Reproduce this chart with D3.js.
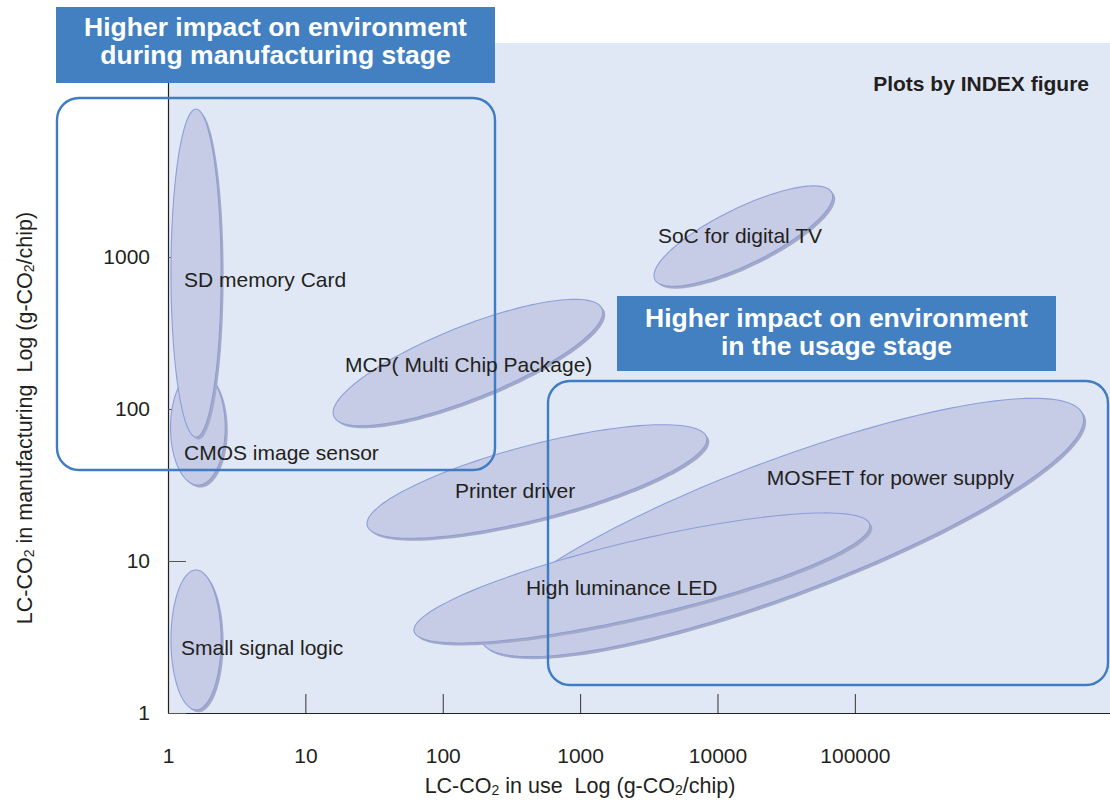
<!DOCTYPE html>
<html>
<head>
<meta charset="utf-8">
<script src="https://cdn.jsdelivr.net/npm/d3@7"></script>
<style>
  html, body { margin: 0; padding: 0; background: #ffffff; }
  svg { display: block; }
  text { font-family: "Liberation Sans", Arial, Helvetica, sans-serif; }
</style>
</head>
<body>
<svg id="chart" width="1110" height="803"></svg>
<script>
// ---------------- DATA ----------------
const categories = [
  "SD memory Card", "CMOS image sensor", "Small signal logic",
  "MCP( Multi Chip Package)", "Printer driver", "SoC for digital TV",
  "MOSFET for power supply", "High luminance LED"
];
// major-axis end points of each plotted region (g-CO2/chip)
const useLow   = [1.6, 1.65, 1.6, 16.1, 28.2, 3500, 190, 61.9];
const useHigh  = [1.6, 1.65, 1.6, 1445, 8330, 68000, 4560000, 128200];
const mfgLow   = [65.4, 31.6, 1.05, 89.7, 17.1, 712, 3.0, 3.44];
const mfgHigh  = [9400, 180, 8.73, 456, 65.1, 2653, 92.1, 17.4];
// half-width of each region (in decades)
const spreadDecades = [0.165, 0.18, 0.165, 0.237, 0.243, 0.184, 0.44, 0.25];
// label anchor points (g-CO2/chip)
const labelUse = [1.307, 1.307, 1.243, 19.4, 122.7, 3683, 22880, 403];
const labelMfg = [706, 51.3, 2.68, 194.8, 28.9, 1374, 35.2, 6.64];
// drawing order (later = on top)
const drawOrder = [1, 0, 2, 3, 4, 5, 6, 7];

const xTickValues = [1, 10, 100, 1000, 10000, 100000];
const xTickLabels = ["1", "10", "100", "1000", "10000", "100000"];
const yTickValues = [1, 10, 100, 1000];
const yTickLabels = ["1", "10", "100", "1000"];

const titleManufacturing = ["Higher impact on environment", "during manufacturing stage"];
const titleUsage = ["Higher impact on environment", "in the usage stage"];
const noteText = "Plots by INDEX figure";

// ---------------- LAYOUT ----------------
const svg = d3.select("#chart");
const FONT = '"Liberation Sans", Arial, Helvetica, sans-serif';
const plotLeft = 168, plotRight = 1110, plotTop = 43, plotBottom = 713;

const x = d3.scaleLog().domain([1, 7.2e6]).range([plotLeft, plotRight]);
const y = d3.scaleLog().domain([1, 25600]).range([plotBottom, plotTop]);

const colBg = "#e1e8f5";
const colBox = "#4280c2";
const colFrame = "#3f7cc1";
const colFill = "#c6cbe6";
const colStroke = "#8c9fd9";
const colShadow = "#a4a9c5";
const colText = "#231f20";

// plot background
svg.append("rect")
  .attr("x", plotLeft).attr("y", plotTop)
  .attr("width", plotRight - plotLeft).attr("height", plotBottom - plotTop)
  .attr("fill", colBg);

// axes
const xAxis = d3.axisBottom(x)
  .tickValues(xTickValues)
  .tickFormat((d, i) => xTickLabels[i])
  .tickSizeInner(-19).tickSizeOuter(0).tickPadding(35);
const gx = svg.append("g").attr("transform", `translate(0,${plotBottom})`).call(xAxis);
gx.select(".domain").attr("stroke", "#231f20").attr("stroke-width", 1.2);
gx.selectAll(".tick line").attr("stroke", "#333").attr("stroke-width", 1);
gx.selectAll(".tick text").attr("font-size", 21).attr("font-family", FONT).attr("fill", colText);

const yAxis = d3.axisLeft(y)
  .tickValues(yTickValues)
  .tickFormat((d, i) => yTickLabels[i])
  .tickSizeInner(-18).tickSizeOuter(0).tickPadding(18);
const gy = svg.append("g").attr("transform", `translate(${plotLeft},0)`).call(yAxis);
gy.select(".domain").attr("stroke", "#231f20").attr("stroke-width", 1.2);
gy.selectAll(".tick line").attr("stroke", "#555").attr("stroke-width", 1);
gy.selectAll(".tick text").attr("font-size", 21).attr("font-family", FONT).attr("fill", colText);

// ---------------- REGIONS ----------------
const decadePx = y(1) - y(10);
function regionPath(i) {
  const x1 = x(useLow[i]), y1 = y(mfgLow[i]);
  const x2 = x(useHigh[i]), y2 = y(mfgHigh[i]);
  const cx = (x1 + x2) / 2, cy = (y1 + y2) / 2;
  const a = Math.hypot(x2 - x1, y2 - y1) / 2;
  const b = spreadDecades[i] * decadePx;
  const ang = Math.atan2(y2 - y1, x2 - x1);
  const pts = [];
  const N = 160;
  for (let j = 0; j < N; j++) {
    const phi = (j / N) * 2 * Math.PI;
    const px = a * Math.cos(phi), py = b * Math.sin(phi);
    pts.push([cx + px * Math.cos(ang) - py * Math.sin(ang),
              cy + px * Math.sin(ang) + py * Math.cos(ang)]);
  }
  return d3.line().curve(d3.curveLinearClosed)(pts);
}

const gRegions = svg.append("g");
drawOrder.forEach(i => {
  const g = gRegions.append("g");
  const d = regionPath(i);
  g.append("path").attr("d", d).attr("fill", colShadow)
    .attr("transform", "translate(2.5,2.5)");
  g.append("path").attr("d", d).attr("fill", colFill)
    .attr("stroke", colStroke).attr("stroke-width", 1.1);
});

// ---------------- ANNOTATION FRAMES ----------------
svg.append("rect").attr("x", 57).attr("y", 98).attr("width", 438).attr("height", 372)
  .attr("rx", 22).attr("ry", 22)
  .attr("fill", "none").attr("stroke", colFrame).attr("stroke-width", 2.4);
svg.append("rect").attr("x", 548).attr("y", 381).attr("width", 560).attr("height", 304)
  .attr("rx", 22).attr("ry", 22)
  .attr("fill", "none").attr("stroke", colFrame).attr("stroke-width", 2.4);

// ---------------- LABELS ----------------
svg.append("g").selectAll("text").data(categories).join("text")
  .attr("x", (d, i) => x(labelUse[i]))
  .attr("y", (d, i) => y(labelMfg[i]))
  .attr("dy", "0.35em")
  .attr("font-size", 21)
  .attr("fill", colText)
  .text(d => d);

// title boxes
function titleBox(x0, y0, w, h, lines, baselines) {
  svg.append("rect").attr("x", x0).attr("y", y0).attr("width", w).attr("height", h)
    .attr("fill", colBox);
  lines.forEach((l, i) => {
    svg.append("text").attr("x", x0 + w / 2).attr("y", baselines[i])
      .attr("text-anchor", "middle").attr("font-size", 26.5).attr("font-weight", "bold")
      .attr("fill", "#ffffff").text(l);
  });
}
titleBox(56, 7, 439, 76, titleManufacturing, [36, 64]);
titleBox(617, 296, 439, 75, titleUsage, [327, 355]);

svg.append("text").attr("x", 1089).attr("y", 91).attr("text-anchor", "end")
  .attr("font-size", 21).attr("font-weight", "bold").attr("fill", colText)
  .text(noteText);

// axis titles with subscript 2
function subLabel(sel, parts) {
  let prevSub = false;
  parts.forEach(p => {
    const t = sel.append("tspan").text(p.t);
    if (p.sub) { t.attr("font-size", 14).attr("dy", 2); prevSub = true; }
    else if (prevSub) { t.attr("dy", -2); prevSub = false; }
  });
}
const xt = svg.append("text").attr("x", 580).attr("y", 793).attr("text-anchor", "middle")
  .attr("font-size", 21.5).attr("fill", colText).style("white-space", "pre");
subLabel(xt, [{t: "LC-CO"}, {t: "2", sub: true}, {t: " in use  Log (g-CO"}, {t: "2", sub: true}, {t: "/chip)"}]);

const yt = svg.append("text").attr("transform", "translate(32,418) rotate(-90)")
  .attr("text-anchor", "middle").attr("font-size", 21.5).attr("fill", colText)
  .style("white-space", "pre");
subLabel(yt, [{t: "LC-CO"}, {t: "2", sub: true}, {t: " in manufacturing  Log (g-CO"}, {t: "2", sub: true}, {t: "/chip)"}]);
</script>
</body>
</html>
